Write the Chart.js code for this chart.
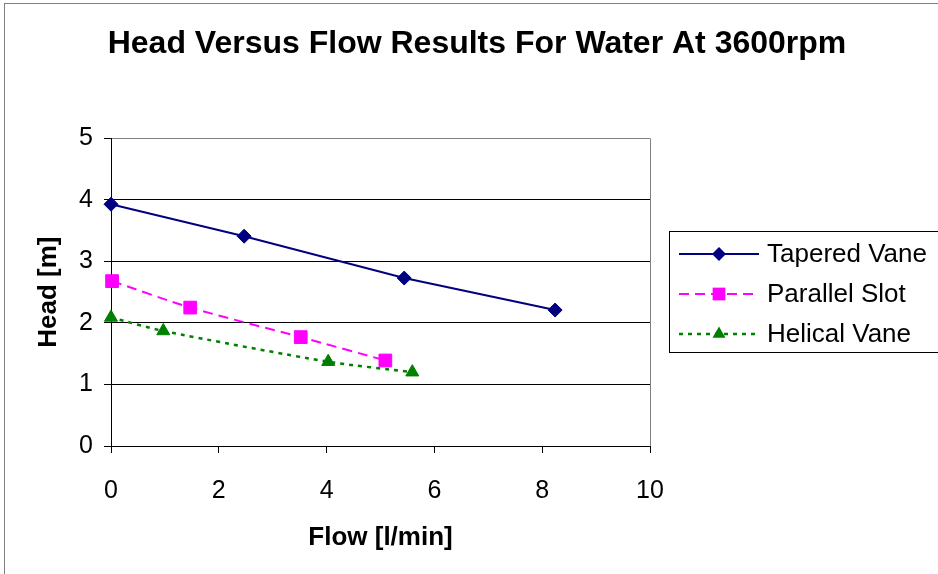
<!DOCTYPE html>
<html>
<head>
<meta charset="utf-8">
<script src="https://cdn.jsdelivr.net/npm/chart.js@4/dist/chart.umd.min.js"></script>
<style>
  html, body { margin: 0; padding: 0; background: #fff; }
  #wrap { width: 938px; height: 574px; }
</style>
</head>
<body>
<div id="wrap"><canvas id="headChart"></canvas></div>
<script>
// values
const flowTapered = [0, 2.47, 5.44, 8.24];
const headTapered = [3.93, 3.41, 2.73, 2.21];
const flowParallel = [0.02, 1.47, 3.52, 5.09];
const headParallel = [2.68, 2.25, 1.77, 1.39];
const flowHelical = [0, 0.97, 4.03, 5.59];
const headHelical = [2.09, 1.87, 1.37, 1.20];
const seriesNames = ['Tapered Vane', 'Parallel Slot', 'Helical Vane'];

const FONT = 'Liberation Sans, Arial, sans-serif';

function toPoints(xs, ys) {
  return xs.map((x, i) => ({ x: x, y: ys[i] }));
}

function drawMarker(ctx, style, x, y, r, color) {
  ctx.save();
  ctx.fillStyle = color;
  ctx.beginPath();
  if (style === 'rectRot') {
    ctx.moveTo(x, y - r); ctx.lineTo(x + r, y); ctx.lineTo(x, y + r); ctx.lineTo(x - r, y);
  } else if (style === 'rect') {
    const s = r * Math.SQRT1_2;
    ctx.rect(x - s, y - s, 2 * s, 2 * s);
  } else {
    ctx.moveTo(x, y - r);
    ctx.lineTo(x + r * Math.sin(2 * Math.PI / 3), y + r / 2);
    ctx.lineTo(x - r * Math.sin(2 * Math.PI / 3), y + r / 2);
  }
  ctx.closePath();
  ctx.fill();
  ctx.restore();
}

// white page, grey outer frame, grey right edge of the plot
const framePlugin = {
  id: 'frame',
  beforeDraw(chart) {
    const ctx = chart.ctx;
    ctx.save();
    ctx.fillStyle = '#fff';
    ctx.fillRect(0, 0, chart.width, chart.height);
    ctx.strokeStyle = '#808080';
    ctx.lineWidth = 1;
    ctx.strokeRect(4.5, 3.5, chart.width + 10, chart.height + 10);
    ctx.restore();
  },
  beforeDatasetsDraw(chart) {
    const a = chart.chartArea;
    const ctx = chart.ctx;
    ctx.save();
    ctx.strokeStyle = '#808080';
    ctx.lineWidth = 1;
    ctx.beginPath();
    ctx.moveTo(Math.round(a.right) + 0.5, a.top);
    ctx.lineTo(Math.round(a.right) + 0.5, a.bottom);
    ctx.stroke();
    ctx.restore();
  }
};

// excel style legend box with line + marker
const boxLegend = {
  id: 'boxLegend',
  afterDraw(chart) {
    const ctx = chart.ctx;
    const left = chart.chartArea.right + 19;
    const top = 231;
    ctx.save();
    ctx.strokeStyle = '#000';
    ctx.lineWidth = 1;
    ctx.strokeRect(left + 0.5, top + 0.5, 320, 121);
    chart.data.datasets.forEach((ds, i) => {
      const y = top + 23 + i * 40;
      ctx.save();
      ctx.strokeStyle = ds.borderColor;
      ctx.lineWidth = ds.borderWidth;
      ctx.setLineDash(ds.borderDash || []);
      ctx.beginPath();
      ctx.moveTo(left + 10, y);
      ctx.lineTo(left + 90, y);
      ctx.stroke();
      ctx.restore();
      drawMarker(ctx, ds.pointStyle, left + 50, y, ds.pointRadius, ds.pointBackgroundColor);
      ctx.fillStyle = '#000';
      ctx.font = '26px ' + FONT;
      ctx.textBaseline = 'middle';
      ctx.textAlign = 'left';
      ctx.fillText(ds.label, left + 98, y + 1);
    });
    ctx.restore();
  }
};

const chart = new Chart(document.getElementById('headChart'), {
  type: 'scatter',
  data: {
    datasets: [{
      label: seriesNames[0],
      data: toPoints(flowTapered, headTapered),
      showLine: true,
      clip: false,
      borderColor: '#000080',
      backgroundColor: '#000080',
      pointBackgroundColor: '#000080',
      pointBorderColor: '#000080',
      borderWidth: 2,
      pointStyle: 'rectRot',
      pointRadius: 7,
      pointBorderWidth: 1
    }, {
      label: seriesNames[1],
      data: toPoints(flowParallel, headParallel),
      showLine: true,
      clip: false,
      borderColor: '#ff00ff',
      backgroundColor: '#ff00ff',
      pointBackgroundColor: '#ff00ff',
      pointBorderColor: '#ff00ff',
      borderWidth: 2,
      borderDash: [10, 6],
      tension: 0.25,
      pointStyle: 'rect',
      pointRadius: 9,
      pointBorderWidth: 1
    }, {
      label: seriesNames[2],
      data: toPoints(flowHelical, headHelical),
      showLine: true,
      clip: false,
      borderColor: '#008000',
      backgroundColor: '#008000',
      pointBackgroundColor: '#008000',
      pointBorderColor: '#008000',
      borderWidth: 2.5,
      borderDash: [4, 5],
      tension: 0.25,
      pointStyle: 'triangle',
      pointRadius: 7.5,
      pointBorderWidth: 1
    }]
  },
  options: {
    responsive: true,
    maintainAspectRatio: false,
    animation: false,
    layout: { padding: { left: 16, right: 0, top: 0, bottom: 0 } },
    plugins: {
      legend: { display: false },
      tooltip: { enabled: false },
      title: {
        display: true,
        text: 'Head Versus Flow Results For Water At 3600rpm',
        color: '#000',
        font: { family: FONT, size: 32, weight: 'bold' },
        padding: { top: 25, bottom: 75 }
      }
    },
    scales: {
      x: {
        type: 'linear',
        min: 0,
        max: 10,
        ticks: { stepSize: 2, color: '#000', font: { family: FONT, size: 25 }, padding: 23 },
        grid: { drawOnChartArea: false, drawTicks: true, tickLength: 7, color: '#000' },
        border: { color: '#000', width: 1 },
        title: {
          display: true,
          text: 'Flow [l/min]',
          color: '#000',
          font: { family: FONT, size: 26, weight: 'bold' },
          padding: { top: 0, bottom: 21 }
        },
        afterFit(scale) { scale.height = 128; }
      },
      y: {
        type: 'linear',
        min: 0,
        max: 5,
        ticks: { stepSize: 1, color: '#000', font: { family: FONT, size: 25 }, padding: 11 },
        grid: {
          color: ctx => (ctx.tick && ctx.tick.value === 5 ? '#808080' : '#000'),
          tickColor: '#000',
          tickLength: 7
        },
        border: { color: '#000', width: 1 },
        title: {
          display: true,
          text: 'Head [m]',
          color: '#000',
          font: { family: FONT, size: 26, weight: 'bold' },
          padding: { top: 17, bottom: 0 }
        },
        afterFit(scale) { scale.width = 95; }
      },
      // empty right-hand strip that holds the legend box
      side: {
        type: 'linear',
        position: 'right',
        display: true,
        ticks: { display: false },
        grid: { display: false },
        border: { display: false },
        afterFit(scale) { scale.width = 288; }
      }
    }
  },
  plugins: [framePlugin, boxLegend]
});
</script>
</body>
</html>
